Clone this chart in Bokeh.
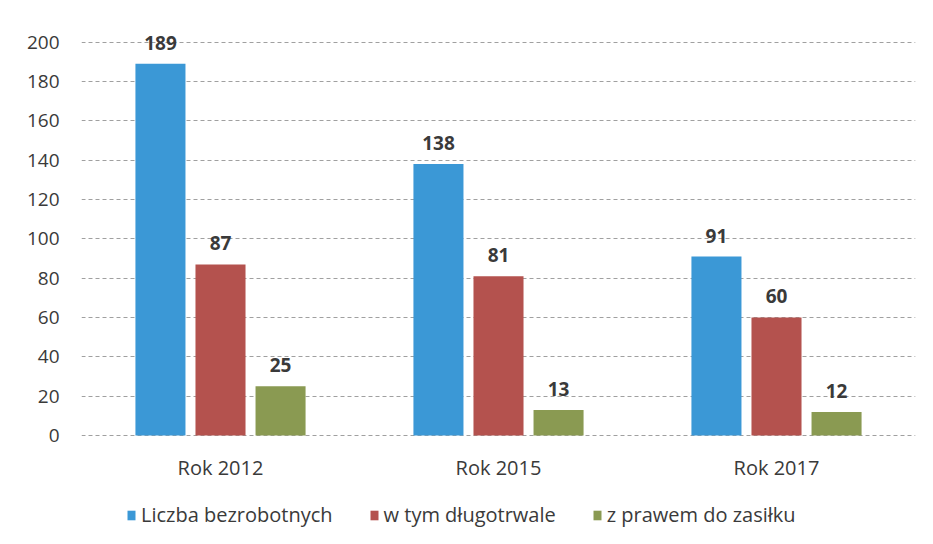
from bokeh.plotting import figure
from bokeh.models import ColumnDataSource, FactorRange, LabelSet, Legend, LegendItem, Range1d
from bokeh.core.properties import value
from bokeh.transform import dodge
from bokeh.embed import file_html
from bokeh.resources import INLINE

years = ["Rok 2012", "Rok 2015", "Rok 2017"]
series_names = ["Liczba bezrobotnych", "w tym długotrwale", "z prawem do zasiłku"]
liczba = [189, 138, 91]
dlugotrwale = [87, 81, 60]
zasilek = [25, 13, 12]
y_ticks = [0, 20, 40, 60, 80, 100, 120, 140, 160, 180, 200]

colors = ["#3b98d6", "#b4524e", "#8a9a52"]
FONT = "Open Sans"
BOLD_FONT = "Open Sans, sans-serif"
TXT = "#3a3a3a"

src = ColumnDataSource(dict(years=years, a=liczba, b=dlugotrwale, c=zasilek,
                            base=[0] * len(years),
                            la=[str(v) for v in liczba],
                            lb=[str(v) for v in dlugotrwale],
                            lc=[str(v) for v in zasilek]))

p = figure(x_range=FactorRange(*years), y_range=Range1d(-47.3, 210),
           width=917, height=528,
           min_border_left=81, min_border_top=22, min_border_right=2, min_border_bottom=0,
           output_backend="svg", toolbar_location=None)

offs = [-0.216, 0.0, 0.216]
cols = ["a", "b", "c"]
renderers = []
for off, col, c in zip(offs, cols, colors):
    r = p.vbar(x=dodge("years", off, range=p.x_range), top=col, width=0.18,
               source=src, fill_color=c, line_color=None)
    renderers.append(r)
    p.add_layout(LabelSet(x=dodge("years", off, range=p.x_range), y=col, text="l" + col,
                          source=src, text_align="center", text_baseline="bottom",
                          y_offset=14, text_font_size="19px", text_color=TXT,
                          text_font=value(BOLD_FONT), text_font_style="bold"))

# category labels under the baseline
p.add_layout(LabelSet(x="years", y="base", text="years", source=src,
                      text_align="center", text_baseline="middle", y_offset=-32,
                      text_font=value(FONT), text_font_size="20px", text_color=TXT))

p.xaxis.visible = False
p.outline_line_color = None
p.background_fill_color = "white"
p.border_fill_color = "white"

p.yaxis.ticker = y_ticks
p.yaxis.axis_line_color = None
p.yaxis.major_tick_line_color = None
p.yaxis.minor_tick_line_color = None
p.yaxis.major_label_text_font = FONT
p.yaxis.major_label_text_font_size = "19px"
p.yaxis.major_label_text_color = TXT
p.yaxis.major_label_standoff = 16

p.xgrid.grid_line_color = None
p.ygrid.grid_line_color = "#a0a0a0"
p.ygrid.grid_line_dash = "4 3"
p.ygrid.grid_line_width = 1

legend = Legend(items=[LegendItem(label=n, renderers=[r]) for n, r in zip(series_names, renderers)],
                orientation="horizontal", location=(45, 0),
                label_text_font=FONT, label_text_font_size="20px", label_text_color=TXT,
                glyph_width=10, glyph_height=12, label_standoff=5, spacing=36,
                border_line_color=None, background_fill_alpha=0, margin=0, padding=3)
p.add_layout(legend)

open("out.html", "w").write(file_html(p, INLINE))
